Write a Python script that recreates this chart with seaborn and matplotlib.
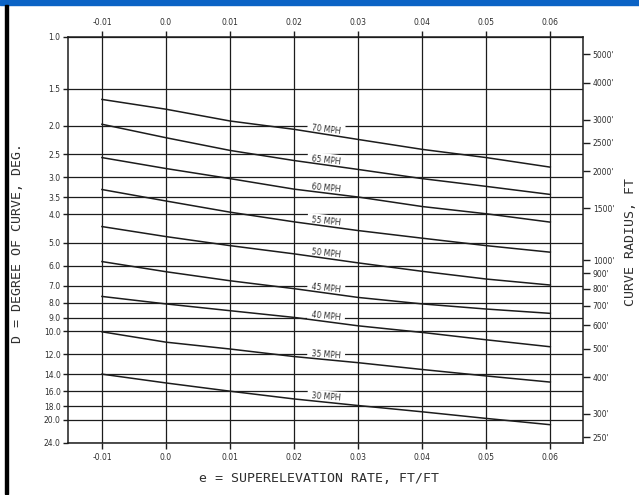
import numpy as np
import pandas as pd
import matplotlib
matplotlib.use("Agg")
import matplotlib.pyplot as plt
import seaborn as sns
from matplotlib.patches import Rectangle
from matplotlib.ticker import NullLocator

# superelevation rate (x) and degree of curve (y)
e_rate = [-0.01, 0.0, 0.01, 0.02, 0.03, 0.04, 0.05, 0.06]
speeds = [70, 65, 60, 55, 50, 45, 40, 35, 30]
d_70 = [1.63, 1.76, 1.93, 2.06, 2.23, 2.41, 2.57, 2.77]
d_65 = [1.98, 2.20, 2.43, 2.63, 2.82, 3.03, 3.22, 3.43]
d_60 = [2.57, 2.80, 3.03, 3.29, 3.50, 3.77, 3.99, 4.26]
d_55 = [3.30, 3.61, 3.94, 4.25, 4.55, 4.83, 5.12, 5.39]
d_50 = [4.41, 4.77, 5.12, 5.46, 5.86, 6.26, 6.65, 6.97]
d_45 = [5.80, 6.28, 6.74, 7.17, 7.68, 8.08, 8.41, 8.70]
d_40 = [7.62, 8.08, 8.52, 8.98, 9.59, 10.1, 10.7, 11.3]
d_35 = [10.05, 10.9, 11.5, 12.2, 12.8, 13.5, 14.2, 14.9]
d_30 = [14.0, 15.0, 16.0, 17.0, 17.9, 18.8, 19.8, 20.8]
curves = [d_70, d_65, d_60, d_55, d_50, d_45, d_40, d_35, d_30]

degree_ticks = [1.0, 1.5, 2.0, 2.5, 3.0, 3.5, 4.0, 5.0, 6.0, 7.0, 8.0, 9.0,
                10.0, 12.0, 14.0, 16.0, 18.0, 20.0, 24.0]
radius_ticks = [5000, 4000, 3000, 2500, 2000, 1500, 1000, 900, 800, 700,
                600, 500, 400, 300, 250]
e_labels = ["-0.01", "0.0", "0.01", "0.02", "0.03", "0.04", "0.05", "0.06"]

rows = []
for s, ds in zip(speeds, curves):
    for e, d in zip(e_rate, ds):
        rows.append((f"{s} MPH", e, d))
df = pd.DataFrame(rows, columns=["speed", "e", "D"])

plt.rcParams["font.family"] = ["DejaVu Sans"]
ink = "#1c1c1c"
txt = "#2e2e2e"

fig = plt.figure(figsize=(6.39, 4.95), dpi=100)
ax = fig.add_axes([68 / 639, 1 - 443 / 495, (583 - 68) / 639, (443 - 37) / 495])

sns.lineplot(data=df, x="e", y="D", hue="speed",
             palette={f"{s} MPH": ink for s in speeds},
             legend=False, ax=ax, lw=1.1, zorder=4)

ax.set_yscale("log")
ax.set_ylim(24, 1)
ax.set_yticks(degree_ticks)
ax.set_yticklabels([f"{d:.1f}" for d in degree_ticks])
ax.yaxis.set_minor_locator(NullLocator())
ax.set_xlim(-0.0153, 0.0651)
ax.set_xticks(e_rate)
ax.set_xticklabels(e_labels)
ax.set_xlabel("")
ax.set_ylabel("")
ax.tick_params(axis="x", top=True, labeltop=True, bottom=True, labelbottom=True,
               direction="out", length=4.5, width=1, color=ink, labelsize=5.5,
               pad=2.5, labelcolor=txt)
ax.tick_params(axis="y", left=True, direction="out", length=3.8, width=1,
               color=ink, labelsize=5.5, pad=1.5, labelcolor=txt)
ax.grid(True, color=ink, lw=0.9)
ax.set_axisbelow(True)
for sp in ax.spines.values():
    sp.set_color(ink)
    sp.set_linewidth(1.1)

# curve radius scale on the right, R = 5729.58 / D
ax2 = ax.twinx()
ax2.set_yscale("log")
ax2.set_ylim(24, 1)
ax2.set_yticks([5729.58 / r for r in radius_ticks])
ax2.set_yticklabels([f"{r}'" for r in radius_ticks])
ax2.yaxis.set_minor_locator(NullLocator())
ax2.tick_params(axis="y", right=True, direction="out", length=5, width=1,
                color=ink, labelsize=5.5, pad=2, labelcolor=txt)
for sp in ax2.spines.values():
    sp.set_visible(False)

# speed labels sitting on each curve
fig.canvas.draw()
for s, ds in zip(speeds, curves):
    logd = np.log10(ds)
    d_mid = 10 ** np.interp(0.025, e_rate, logd)
    p1 = ax.transData.transform((0.02, 10 ** np.interp(0.02, e_rate, logd)))
    p2 = ax.transData.transform((0.03, 10 ** np.interp(0.03, e_rate, logd)))
    ang = np.degrees(np.arctan2(p2[1] - p1[1], p2[0] - p1[0])) * 0.8
    ax.annotate(f" {s} MPH ", xy=(0.025, d_mid), xytext=(0, 3.6),
                textcoords="offset points", ha="center", va="center",
                fontsize=5.5, color=txt, rotation=ang,
                rotation_mode="anchor", zorder=3,
                bbox=dict(boxstyle="square,pad=0.25", fc="white", ec="none"))

lab = dict(ha="center", va="center", fontsize=9.5, color=txt,
           family=["DejaVu Sans Mono"])
fig.text(319 / 639, 1 - 478 / 495, "e = SUPERELEVATION RATE, FT/FT", **lab)
fig.text(18 / 639, 1 - 243 / 495, "D = DEGREE OF CURVE, DEG.", rotation=90, **lab)
fig.text(631 / 639, 1 - 242 / 495, "CURVE RADIUS, FT", rotation=90, **lab)

# screenshot frame: blue band on top, black bar on the left
fig.patches.append(Rectangle((0, 1 - 5 / 495), 1, 5 / 495, transform=fig.transFigure,
                             color="#0b63c5", zorder=10))
fig.patches.append(Rectangle((5 / 639, 1 / 495), 3 / 639, 489 / 495,
                             transform=fig.transFigure, color="black", zorder=10))

fig.savefig("out.png", dpi=100, facecolor="white")
